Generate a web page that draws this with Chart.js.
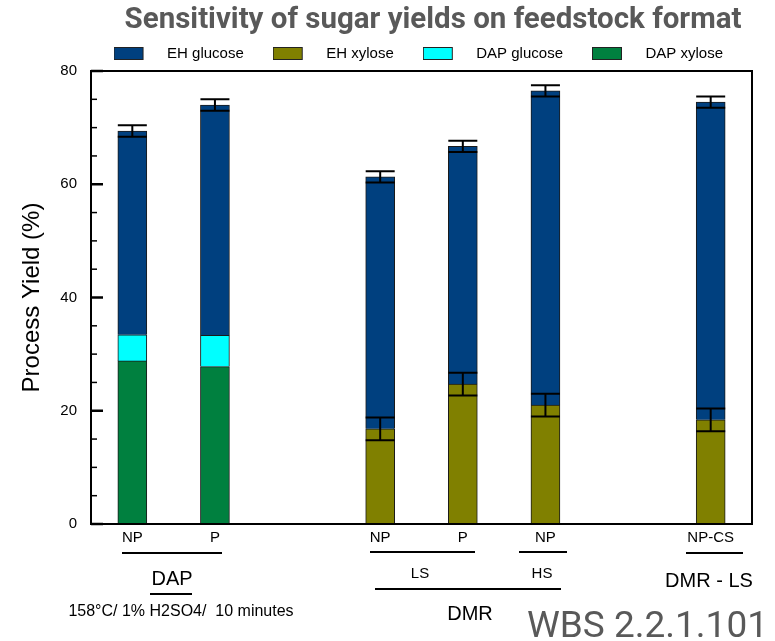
<!DOCTYPE html>
<html>
<head>
<meta charset="utf-8">
<script src="https://cdn.jsdelivr.net/npm/chart.js@4.4.1/dist/chart.umd.min.js"></script>
<style>
  body { margin: 0; background: #fff; }
  #wrap { width: 775px; height: 641px; }
</style>
</head>
<body>
<div id="wrap"><canvas id="chart" width="775" height="641"></canvas></div>
<script>
// values (stacked, %)
const categories = ["NP", "P", "", "NP", "P", "NP", "", "NP-CS"];
const dapXylose = [28.8, 27.8, null, null, null, null, null, null];
const dapGlucose = [4.6, 5.5, null, null, null, null, null, null];
const ehXylose = [null, null, null, 16.8, 24.7, 21.0, null, 18.4];
const ehGlucose = [36.0, 40.7, null, 44.5, 42.0, 55.5, null, 56.1];
const xyloseErr = [null, null, null, 2, 2, 2, null, 2];
const totalErr = [1, 1, null, 1, 1, 1, null, 1];
const yTicks = [0, 20, 40, 60, 80];

const titleText = "Sensitivity of sugar yields on feedstock format";
const sans = "'Liberation Sans', Arial, sans-serif";
const colors = {
    ehGlucose: "#00407f",
    ehXylose: "#808000",
    dapGlucose: "#00ffff",
    dapXylose: "#00803f"
};

function fitSize(text, font, width) {
    const c = document.createElement("canvas").getContext("2d");
    c.font = font.replace("SIZE", "100px");
    return 100 * width / c.measureText(text).width;
}

// legend swatch with the gap to the text built in
function legendBox(color) {
    const c = document.createElement("canvas");
    c.width = 46;
    c.height = 13;
    const g = c.getContext("2d");
    g.fillStyle = color;
    g.fillRect(0, 0, 30, 13);
    g.strokeStyle = "#222";
    g.lineWidth = 1;
    g.strokeRect(0.5, 0.5, 29, 12);
    return c;
}

const datasets = [
    { label: "DAP xylose", data: dapXylose, backgroundColor: colors.dapXylose },
    { label: "DAP glucose", data: dapGlucose, backgroundColor: colors.dapGlucose },
    { label: "EH xylose", data: ehXylose, backgroundColor: colors.ehXylose },
    { label: "EH glucose", data: ehGlucose, backgroundColor: colors.ehGlucose }
].map(d => Object.assign(d, { borderColor: "#1a1a1a", borderWidth: 1, barThickness: 29 }));

// frame, inside tick marks and error bars
const framePlugin = {
    id: "frame",
    afterDatasetsDraw(chart) {
        const { ctx, chartArea: a, scales: { x, y } } = chart;
        ctx.save();
        ctx.strokeStyle = "#000";

        y.ticks.forEach(t => {
            const major = yTicks.includes(t.value);
            const py = y.getPixelForValue(t.value);
            ctx.lineWidth = major ? 2.5 : 1.5;
            ctx.beginPath();
            ctx.moveTo(a.left, py);
            ctx.lineTo(a.left + (major ? 12 : 6), py);
            ctx.stroke();
        });

        ctx.lineWidth = 2;
        ctx.strokeRect(a.left, a.top, a.right - a.left, a.bottom - a.top);

        const meta = chart.getDatasetMeta(3);
        categories.forEach((c, i) => {
            const bar = meta.data[i];
            const half = bar ? bar.width / 2 : 14.5;
            const px = x.getPixelForValue(i);
            const base = (dapXylose[i] || 0) + (dapGlucose[i] || 0) + (ehXylose[i] || 0);
            const marks = [];
            if (xyloseErr[i] != null) marks.push([base, xyloseErr[i]]);
            if (totalErr[i] != null) marks.push([base + (ehGlucose[i] || 0), totalErr[i]]);
            marks.forEach(([v, e]) => {
                const hi = y.getPixelForValue(v + e);
                const lo = y.getPixelForValue(v - e);
                ctx.lineWidth = 2;
                ctx.beginPath();
                ctx.moveTo(px - half, hi); ctx.lineTo(px + half, hi);
                ctx.moveTo(px - half, lo); ctx.lineTo(px + half, lo);
                ctx.moveTo(px, hi); ctx.lineTo(px, lo);
                ctx.stroke();
            });
        });
        ctx.restore();
    }
};

// title, group labels under the axis, footer
const textPlugin = {
    id: "texts",
    afterDraw(chart) {
        const ctx = chart.ctx;
        ctx.save();
        ctx.fillStyle = "#595959";
        ctx.textAlign = "center";
        ctx.textBaseline = "alphabetic";
        ctx.font = "bold " + fitSize(titleText, "bold SIZE Roboto", 617) + "px Roboto";
        ctx.fillText(titleText, 433, 28);

        ctx.strokeStyle = "#000";
        ctx.lineWidth = 2;
        [[122, 553, 222], [370, 552, 475], [519, 552, 567], [686, 553, 743],
         [150, 594, 192], [375, 589, 561]].forEach(([x1, yy, x2]) => {
            ctx.beginPath();
            ctx.moveTo(x1, yy);
            ctx.lineTo(x2, yy);
            ctx.stroke();
        });

        ctx.fillStyle = "#000";
        [["DAP", 172, 585, 20], ["LS", 420, 578, 15], ["HS", 542, 578, 15],
         ["DMR", 470, 620, 20], ["DMR - LS", 709, 587, 20],
         ["158°C/ 1% H2SO4/  10 minutes", 181, 616, 16]].forEach(([t, tx, ty, s]) => {
            ctx.font = s + "px " + sans;
            ctx.fillText(t, tx, ty);
        });

        const wbs = "WBS 2.2.1.101";
        ctx.fillStyle = "#595959";
        ctx.textAlign = "left";
        ctx.font = fitSize(wbs, "SIZE Roboto", 241) + "px Roboto";
        ctx.fillText(wbs, 527, 637);
        ctx.restore();
    }
};

const ctx = document.getElementById("chart").getContext("2d");
new Chart(ctx, {
    type: "bar",
    data: { labels: categories, datasets: datasets },
    options: {
        responsive: false,
        animation: false,
        layout: { padding: { top: 17, right: 23 } },
        plugins: {
            legend: {
                reverse: true,
                align: "end",
                labels: {
                    usePointStyle: true,
                    pointStyleWidth: 46,
                    boxHeight: 13,
                    padding: 29,
                    color: "#000",
                    font: { family: sans, size: 15 },
                    generateLabels(chart) {
                        return Chart.defaults.plugins.legend.labels.generateLabels(chart).map(item => {
                            item.pointStyle = legendBox(datasets[item.datasetIndex].backgroundColor);
                            return item;
                        });
                    }
                }
            },
            tooltip: { enabled: false }
        },
        scales: {
            x: {
                stacked: true,
                grid: { display: false, drawTicks: false },
                border: { display: false },
                ticks: { color: "#000", font: { family: sans, size: 15 }, padding: 5, autoSkip: false, maxRotation: 0 },
                afterFit(s) { s.height = 117; }
            },
            y: {
                stacked: true,
                min: 0,
                max: 80,
                grid: { display: false, drawTicks: false },
                border: { display: false },
                ticks: {
                    stepSize: 5,
                    padding: 14,
                    color: "#000",
                    font: { family: sans, size: 15 },
                    callback: v => yTicks.includes(v) ? v : ""
                },
                title: {
                    display: true,
                    text: "Process Yield (%)",
                    color: "#000",
                    font: { family: sans, size: 24 },
                    padding: { top: 18, bottom: 0 }
                },
                afterFit(s) { s.width = 91; }
            }
        }
    },
    plugins: [framePlugin, textPlugin]
});
</script>
</body>
</html>
